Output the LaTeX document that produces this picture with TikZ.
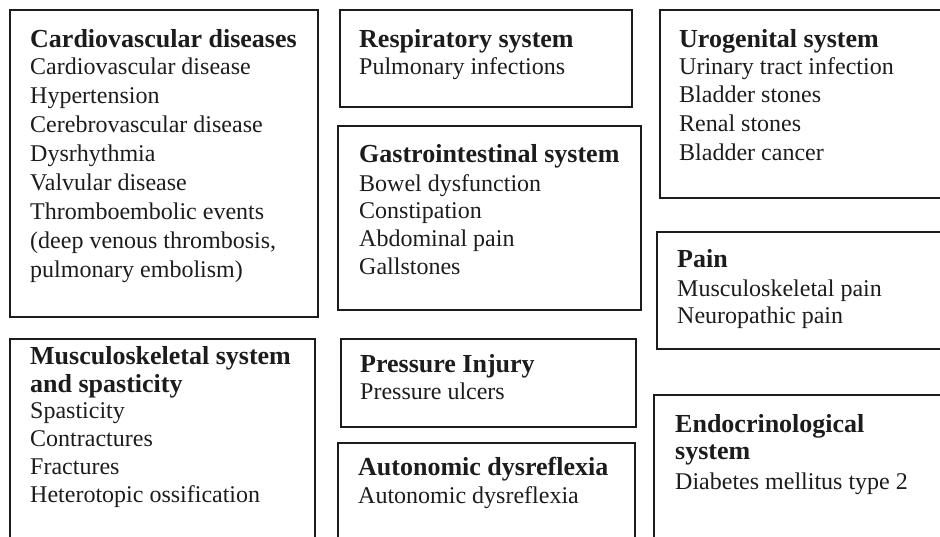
\documentclass[tikz,border=0pt]{standalone}
\usepackage{fontspec}
\setmainfont{Liberation Serif}
\definecolor{ink}{HTML}{1C1C1C}
\begin{document}
\begin{tikzpicture}[x=1pt,y=-1pt,
  box/.style={draw=ink,line width=1.8pt,rectangle,inner sep=0pt,outer sep=0pt,anchor=north west},
  ttl/.style={anchor=base west,inner sep=0pt,text=ink,font=\fontsize{26}{28}\selectfont\bfseries},
  itm/.style={anchor=base west,inner sep=0pt,text=ink,font=\fontsize{24}{27}\selectfont}]
\useasboundingbox (0,0) rectangle (940,536);
\begin{scope}
\clip (0,0) rectangle (940,536);
% boxes
\node[box,minimum width=308pt,minimum height=307pt] (b1) at (10,10) {};
\node[box,minimum width=292pt,minimum height=97pt] (b2) at (340,10) {};
\node[box,minimum width=303pt,minimum height=184pt] (b3) at (338,126) {};
\node[box,minimum width=300pt,minimum height=188pt] (b4) at (660,10) {};
\node[box,minimum width=300pt,minimum height=117pt] (b5) at (657,232) {};
\node[box,minimum width=300pt,minimum height=160pt] (b6) at (654,395) {};
\node[box,minimum width=305pt,minimum height=216pt] (b7) at (10,339) {};
\node[box,minimum width=295pt,minimum height=88pt] (b8) at (341,339) {};
\node[box,minimum width=297pt,minimum height=112pt] (b9) at (338,443) {};
\end{scope}
% box 1
\node[ttl] (t1) at (30,47) {Cardiovascular diseases};
\foreach \t [count=\i] in {Cardiovascular disease,Hypertension,Cerebrovascular disease,Dysrhythmia,Valvular disease,Thromboembolic events,{(deep venous thrombosis,},pulmonary embolism)}
  \node[itm] (l1-\i) at (30,{74+29*(\i-1)}) {\t};
% box 2
\node[ttl] (t2) at (359,47) {Respiratory system};
\node[itm] (l2-1) at (359,74) {Pulmonary infections};
% box 3
\node[ttl] (t3) at (359,162) {Gastrointestinal system};
\foreach \t [count=\i] in {Bowel dysfunction,Constipation,Abdominal pain,Gallstones}
  \node[itm] (l3-\i) at (359,{191+27.7*(\i-1)}) {\t};
% box 4
\node[ttl] (t4) at (679,47) {Urogenital system};
\foreach \t [count=\i] in {Urinary tract infection,Bladder stones,Renal stones,Bladder cancer}
  \node[itm] (l4-\i) at (679,{74+28.7*(\i-1)}) {\t};
% box 5
\node[ttl] (t5) at (677,267) {Pain};
\node[itm] (l5-1) at (677,296) {Musculoskeletal pain};
\node[itm] (l5-2) at (677,323) {Neuropathic pain};
% box 6
\node[ttl] (t6a) at (675,432) {Endocrinological};
\node[ttl] (t6b) at (675,459) {system};
\node[itm] (l6-1) at (675,489) {Diabetes mellitus type 2};
% box 7
\node[ttl] (t7a) at (30,364) {Musculoskeletal system};
\node[ttl] (t7b) at (30,392) {and spasticity};
\foreach \t [count=\i] in {Spasticity,Contractures,Fractures,Heterotopic ossification}
  \node[itm] (l7-\i) at (30,{418+28*(\i-1)}) {\t};
% box 8
\node[ttl] (t8) at (360,372) {Pressure Injury};
\node[itm] (l8-1) at (360,399) {Pressure ulcers};
% box 9
\node[ttl] (t9) at (358,475) {Autonomic dysreflexia};
\node[itm] (l9-1) at (358,503) {Autonomic dysreflexia};
\end{tikzpicture}
\end{document}
